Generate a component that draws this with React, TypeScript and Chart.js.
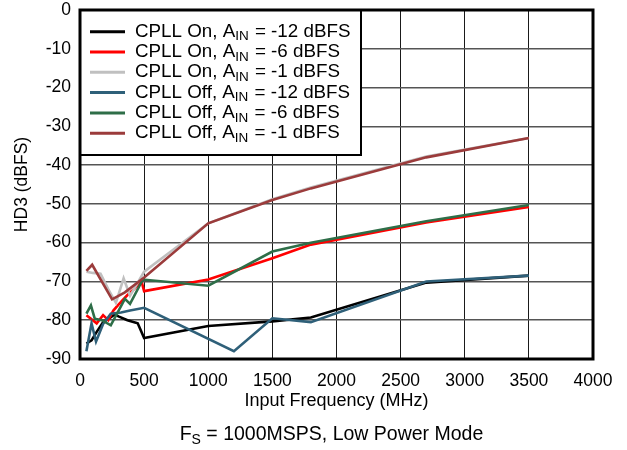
import React, { useEffect, useRef } from "react";
import { Chart, registerables } from "chart.js";

Chart.register(...registerables);

// ---- data ----
const xTickValues = [0, 500, 1000, 1500, 2000, 2500, 3000, 3500, 4000];
const yTickValues = [-90, -80, -70, -60, -50, -40, -30, -20, -10, 0];

const seriesPrefix = ["CPLL On", "CPLL On", "CPLL On", "CPLL Off", "CPLL Off", "CPLL Off"];
const seriesAin = [-12, -6, -1, -12, -6, -1];
const seriesColors = ["#000000", "#ff0000", "#c0c0c0", "#2f6079", "#2e6e48", "#9b3b3b"];

const onM12Freq = [50, 90, 130, 180, 230, 270, 300, 370, 450, 500, 1000, 1500, 1800, 2700, 3500];
const onM12Hd3 = [-86, -85.2, -83, -80.5, -79.5, -78.5, -79, -80, -80.8, -84.6, -81.5, -80.3, -79.3, -70.3, -68.5];

const onM6Freq = [50, 80, 130, 180, 220, 260, 300, 370, 420, 480, 500, 1000, 1500, 1800, 2700, 3500];
const onM6Hd3 = [-78.7, -79.5, -80.8, -78.7, -80, -77.5, -76, -73.5, -72, -70, -72.5, -69.5, -64, -60.5, -54.8, -50.8];

const onM1Freq = [50, 100, 160, 220, 280, 340, 390, 500, 1000, 1500, 1800, 2700, 3500];
const onM1Hd3 = [-67.5, -67.8, -68, -72, -75.5, -69.2, -73.7, -67.5, -55, -48.8, -45.8, -37.8, -33];

const offM12Freq = [50, 90, 125, 180, 240, 320, 390, 500, 1200, 1500, 1800, 2700, 3500];
const offM12Hd3 = [-88, -80.8, -85.5, -81, -78.3, -78, -77.5, -76.8, -88, -79.5, -80.5, -70, -68.5];

const offM6Freq = [50, 85, 115, 170, 240, 350, 390, 490, 1000, 1500, 1800, 2700, 3500];
const offM6Hd3 = [-78.3, -76.2, -79.6, -80, -81.3, -74.5, -75.8, -69.5, -71.1, -62.3, -60, -54.5, -50.3];

const offM1Freq = [50, 95, 250, 350, 500, 1000, 1500, 1800, 2700, 3500];
const offM1Hd3 = [-67.3, -65.7, -74.6, -72.8, -69, -55, -49, -46, -38, -33];

const seriesFreq = [onM12Freq, onM6Freq, onM1Freq, offM12Freq, offM6Freq, offM1Freq];
const seriesHd3 = [onM12Hd3, onM6Hd3, onM1Hd3, offM12Hd3, offM6Hd3, offM1Hd3];

const yTitle = "HD3 (dBFS)";
const xTitle = "Input Frequency (MHz)";
const captionMain = "F";
const captionSub = "S";
const captionRest = " = 1000MSPS, Low Power Mode";

const FONT = "'Liberation Sans', Arial, Helvetica, sans-serif";

const overlayPlugin = {
  id: "overlay",
  afterDatasetsDraw(chart: any) {
    const ctx = chart.ctx as CanvasRenderingContext2D;
    const a = chart.chartArea;
    ctx.save();

    // legend box
    const lx = a.left;
    const ly = a.top;
    const lw = 281;
    const lh = 145;
    ctx.fillStyle = "#fff";
    ctx.fillRect(lx, ly, lw, lh);
    ctx.strokeStyle = "#000";
    ctx.lineWidth = 2;
    ctx.strokeRect(lx, ly, lw, lh);

    // plot border
    ctx.lineWidth = 3;
    ctx.strokeRect(a.left, a.top, a.right - a.left, a.bottom - a.top);

    const rowH = 20.3;
    ctx.textBaseline = "middle";
    for (let i = 0; i < seriesPrefix.length; i++) {
      const y = ly + 21.7 + i * rowH;
      ctx.strokeStyle = seriesColors[i];
      ctx.lineWidth = 3;
      ctx.beginPath();
      ctx.moveTo(lx + 10, y);
      ctx.lineTo(lx + 45, y);
      ctx.stroke();
      ctx.fillStyle = "#000";
      ctx.font = `18.8px ${FONT}`;
      let x = lx + 55;
      const t1 = `${seriesPrefix[i]}, A`;
      ctx.fillText(t1, x, y);
      x += ctx.measureText(t1).width;
      ctx.font = `13.5px ${FONT}`;
      ctx.fillText("IN", x, y + 5);
      x += ctx.measureText("IN").width + 1;
      ctx.font = `18.8px ${FONT}`;
      ctx.fillText(` = ${seriesAin[i]} dBFS`, x, y);
    }

    // y title
    ctx.fillStyle = "#000";
    ctx.font = `17.5px ${FONT}`;
    ctx.textAlign = "center";
    ctx.save();
    ctx.translate(22, (a.top + a.bottom) / 2);
    ctx.rotate(-Math.PI / 2);
    ctx.fillText(yTitle, 0, 0);
    ctx.restore();

    // x title
    const cx = (a.left + a.right) / 2;
    ctx.font = `18px ${FONT}`;
    ctx.fillText(xTitle, cx, a.bottom + 42);

    // caption with subscript
    ctx.textAlign = "left";
    ctx.font = `19.5px ${FONT}`;
    const wMain = ctx.measureText(captionMain).width;
    const wRest = ctx.measureText(captionRest).width;
    ctx.font = `14px ${FONT}`;
    const wSub = ctx.measureText(captionSub).width;
    const total = wMain + wSub + wRest;
    let x0 = cx - total / 2 - 5;
    const cy = a.bottom + 76;
    ctx.font = `19.5px ${FONT}`;
    ctx.fillText(captionMain, x0, cy);
    x0 += wMain;
    ctx.font = `14px ${FONT}`;
    ctx.fillText(captionSub, x0, cy + 5);
    x0 += wSub;
    ctx.font = `19.5px ${FONT}`;
    ctx.fillText(captionRest, x0, cy);
    ctx.restore();
  },
};

export default function App() {
  const ref = useRef<HTMLCanvasElement | null>(null);

  useEffect(() => {
    if (!ref.current) return;
    const datasets = seriesPrefix.map((p, i) => ({
      label: `${p}, AIN = ${seriesAin[i]} dBFS`,
      data: seriesFreq[i].map((f, j) => ({ x: f, y: seriesHd3[i][j] })),
      borderColor: seriesColors[i],
      backgroundColor: seriesColors[i],
      borderWidth: 2.6,
      pointRadius: 0,
      showLine: true,
      tension: 0,
      order: seriesPrefix.length - i,
    }));
    const chart = new Chart(ref.current, {
      type: "scatter",
      data: { datasets },
      options: {
        animation: false,
        responsive: false,
        devicePixelRatio: 1,
        layout: { padding: { left: 0, top: 10, right: 34, bottom: 0 } },
        plugins: { legend: { display: false }, tooltip: { enabled: false }, title: { display: false } },
        scales: {
          x: {
            type: "linear",
            min: 0,
            max: 4000,
            afterBuildTicks: (s: any) => {
              s.ticks = xTickValues.map((v) => ({ value: v }));
            },
            afterFit: (s: any) => {
              s.height = 91;
              s.paddingLeft = 0;
              s.paddingRight = 0;
            },
            grid: { color: "#1a1a1a", lineWidth: 1, drawTicks: false },
            border: { display: false },
            ticks: {
              color: "#000",
              font: { family: FONT, size: 17.5 },
              padding: 12,
              maxRotation: 0,
              autoSkip: false,
              callback: (v: any) => String(v),
            },
          },
          y: {
            type: "linear",
            min: -90,
            max: 0,
            afterBuildTicks: (s: any) => {
              s.ticks = yTickValues.map((v) => ({ value: v }));
            },
            afterFit: (s: any) => {
              s.width = 80;
              s.paddingTop = 0;
              s.paddingBottom = 0;
            },
            grid: { color: "#555", lineWidth: 1.5, drawTicks: false },
            border: { display: false },
            ticks: {
              color: "#000",
              font: { family: FONT, size: 17.5 },
              padding: 9,
              autoSkip: false,
              callback: (v: any) => String(v),
            },
          },
        },
      },
      plugins: [overlayPlugin],
    });
    return () => chart.destroy();
  }, []);

  return (
    <div style={{ position: "fixed", left: 0, top: 0, width: 627, height: 450, background: "#fff" }}>
      <canvas ref={ref} width={627} height={450} style={{ width: 627, height: 450 }} />
    </div>
  );
}
